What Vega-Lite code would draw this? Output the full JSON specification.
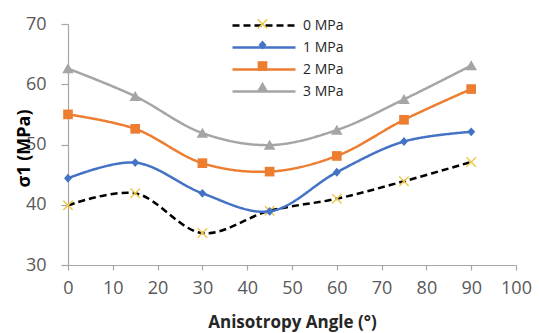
{
  "$schema": "https://vega.github.io/schema/vega-lite/v6.json",
  "autosize": "none",
  "width": 448,
  "height": 241,
  "padding": {"left": 68, "top": 24, "right": 23, "bottom": 68},
  "background": "white",
  "config": {
    "view": {"stroke": null},
    "font": "Open Sans",
    "axis": {"grid": false, "domainColor": "#a6a6a6", "tickColor": "#a6a6a6", "labelColor": "#595959", "labelFont": "Open Sans", "labelFontSize": 18, "titleFont": "Open Sans", "titleFontWeight": "bold", "titleColor": "#262626", "titleFontSize": 17, "domainWidth": 1.2, "tickWidth": 1.2}
  },
  "data": {"values": [
    {"angle": 0, "stress": 39.9, "series": "0 MPa", "marker": "m0"},
    {"angle": 15, "stress": 41.9, "series": "0 MPa", "marker": "m0"},
    {"angle": 30, "stress": 35.3, "series": "0 MPa", "marker": "m0"},
    {"angle": 45, "stress": 39.0, "series": "0 MPa", "marker": "m0"},
    {"angle": 60, "stress": 41.0, "series": "0 MPa", "marker": "m0"},
    {"angle": 75, "stress": 43.9, "series": "0 MPa", "marker": "m0"},
    {"angle": 90, "stress": 47.1, "series": "0 MPa", "marker": "m0"},
    {"angle": 0, "stress": 44.4, "series": "1 MPa", "marker": "m1"},
    {"angle": 15, "stress": 47.0, "series": "1 MPa", "marker": "m1"},
    {"angle": 30, "stress": 41.9, "series": "1 MPa", "marker": "m1"},
    {"angle": 45, "stress": 38.9, "series": "1 MPa", "marker": "m1"},
    {"angle": 60, "stress": 45.4, "series": "1 MPa", "marker": "m1"},
    {"angle": 75, "stress": 50.5, "series": "1 MPa", "marker": "m1"},
    {"angle": 90, "stress": 52.1, "series": "1 MPa", "marker": "m1"},
    {"angle": 0, "stress": 55.0, "series": "2 MPa", "marker": "m2"},
    {"angle": 15, "stress": 52.6, "series": "2 MPa", "marker": "m2"},
    {"angle": 30, "stress": 46.9, "series": "2 MPa", "marker": "m2"},
    {"angle": 45, "stress": 45.5, "series": "2 MPa", "marker": "m2"},
    {"angle": 60, "stress": 48.1, "series": "2 MPa", "marker": "m2"},
    {"angle": 75, "stress": 54.1, "series": "2 MPa", "marker": "m2"},
    {"angle": 90, "stress": 59.2, "series": "2 MPa", "marker": "m2"},
    {"angle": 0, "stress": 62.6, "series": "3 MPa", "marker": "m3"},
    {"angle": 15, "stress": 58.0, "series": "3 MPa", "marker": "m3"},
    {"angle": 30, "stress": 51.9, "series": "3 MPa", "marker": "m3"},
    {"angle": 45, "stress": 49.9, "series": "3 MPa", "marker": "m3"},
    {"angle": 60, "stress": 52.4, "series": "3 MPa", "marker": "m3"},
    {"angle": 75, "stress": 57.5, "series": "3 MPa", "marker": "m3"},
    {"angle": 90, "stress": 63.1, "series": "3 MPa", "marker": "m3"}
  ]},
  "encoding": {
    "x": {"field": "angle", "type": "quantitative", "scale": {"domain": [0, 100], "nice": false, "zero": false},
      "axis": {"values": [0,10,20,30,40,50,60,70,80,90,100], "tickSize": 5, "labelPadding": 9, "labelFlush": false, "title": "Anisotropy Angle (°)", "titleY": 62, "titleBaseline": "alphabetic", "titleX": 224, "titleAlign": "center"}},
    "y": {"field": "stress", "type": "quantitative", "scale": {"domain": [30, 70], "nice": false, "zero": false},
      "axis": {"values": [30,40,50,60,70], "tickSize": 7, "labelPadding": 15, "title": "σ1 (MPa)", "titleX": -44, "titleY": 124, "titleAlign": "center", "titleBaseline": "middle", "titleFontSize": 18, "titleColor": "#000000"}}
  },
  "layer": [
    {
      "mark": {"type": "line", "interpolate": "catmull-rom", "strokeWidth": 2.5},
      "encoding": {
        "stroke": {"field": "series", "type": "nominal", "scale": {"domain": ["0 MPa","1 MPa","2 MPa","3 MPa"], "range": ["#000000","#4472c4","#ed7d31","#a5a5a5"]},
          "legend": {"orient": "none", "legendX": 184, "legendY": -10.5, "title": null, "padding": 0, "symbolType": "M-3,0H3", "symbolSize": 441, "symbolStrokeWidth": 2.5, "labelOffset": 27, "rowPadding": 3, "labelFontSize": 14, "labelColor": "#262626", "labelFont": "Open Sans"}},
        "strokeDash": {"field": "series", "type": "nominal", "scale": {"domain": ["0 MPa","1 MPa","2 MPa","3 MPa"], "range": [[7,4],[1,0],[1,0],[1,0]]},
          "legend": {"orient": "none", "legendX": 184, "legendY": -10.5, "title": null, "padding": 0, "symbolType": "M-3,0H3", "symbolSize": 441, "symbolStrokeWidth": 2.5, "labelOffset": 27, "rowPadding": 3, "labelFontSize": 14, "labelColor": "#262626", "labelFont": "Open Sans"}}
      }
    },
    {
      "mark": {"type": "point", "filled": true, "opacity": 1, "size": 441, "strokeWidth": 0},
      "encoding": {
        "fill": {"field": "marker", "type": "nominal", "scale": {"domain": ["m0","m1","m2","m3"], "range": ["#f0c850","#4472c4","#ed7d31","#a5a5a5"]},
          "legend": {"orient": "none", "legendX": 184, "legendY": -10.5, "title": null, "padding": 0, "symbolSize": 441, "symbolStrokeWidth": 0, "labelExpr": "''", "labelOffset": 27, "rowPadding": 3, "labelFontSize": 14}},
        "shape": {"field": "marker", "type": "nominal", "scale": {"domain": ["m0","m1","m2","m3"], "range": [
          "M-0.5,-0.4L-0.4,-0.5L0,-0.1L0.4,-0.5L0.5,-0.4L0.1,0L0.5,0.4L0.4,0.5L0,0.1L-0.4,0.5L-0.5,0.4L-0.1,0Z",
          "M0,-0.42L0.38,0L0,0.42L-0.38,0Z",
          "M-0.46,-0.46H0.46V0.46H-0.46Z",
          "M0,-0.5L0.55,0.45H-0.55Z"]},
          "legend": {"orient": "none", "legendX": 184, "legendY": -10.5, "title": null, "padding": 0, "symbolSize": 441, "symbolStrokeWidth": 0, "labelExpr": "''", "labelOffset": 27, "rowPadding": 3, "labelFontSize": 14}}
      }
    }
  ]
}
